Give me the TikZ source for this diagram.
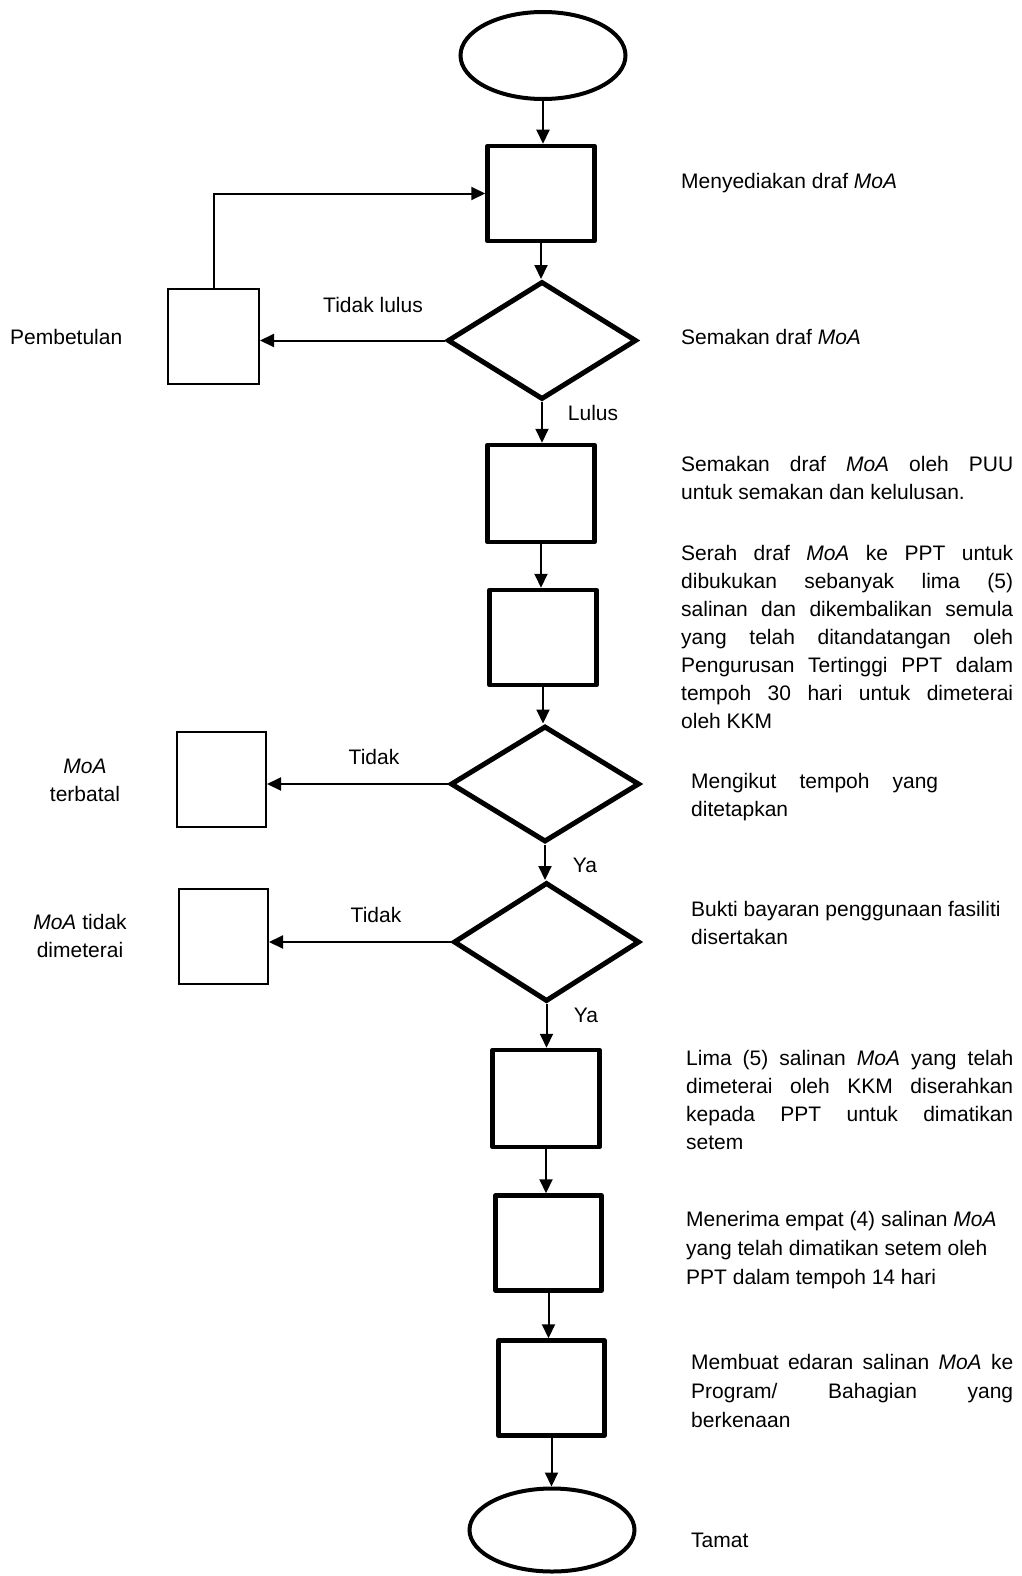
\documentclass[tikz,border=0pt]{standalone}
\usepackage{fontspec}
\setmainfont{Liberation Sans}
\usetikzlibrary{shapes.geometric,arrows.meta}
\newcommand{\moa}{\textit{MoA}}
\newcommand{\jline}[2]{\makebox[#1][s]{#2}\\}

\begin{document}
\begin{tikzpicture}[x=1pt,y=-1pt,
  txt/.style={inner sep=0pt, font=\fontsize{21}{28}\selectfont},
  blk/.style={txt, anchor=base west},
  lbl/.style={txt, anchor=base},
  proc/.style={draw, line width=4.5pt, line join=round, rectangle, inner sep=0pt,
               minimum width=107pt, minimum height=95pt},
  side/.style={draw, line width=2pt, rectangle, inner sep=0pt,
               minimum width=89pt, minimum height=95pt},
  dec/.style={draw, line width=5pt, diamond, inner sep=0pt},
  term/.style={draw, line width=4pt, ellipse, inner sep=0pt,
               minimum width=165pt, minimum height=87pt},
  flow/.style={line width=2pt, -{Triangle[length=14pt,width=13pt]}},
]
\useasboundingbox (0,0) rectangle (1022,1576);

% main column
\node[term] (start) at (543,55.5) {};
\node[proc] (b1) at (541,193.5) {};
\node[dec, minimum width=189pt, minimum height=118pt] (d1) at (542,340.5) {};
\node[proc, minimum height=97pt] (b3) at (541,493.5) {};
\node[proc] (b4) at (543,637.5) {};
\node[dec, minimum width=189pt, minimum height=116pt] (d2) at (545,784) {};
\node[dec, minimum width=186pt, minimum height=119pt] (d3) at (546.5,942) {};
\node[proc, minimum height=97pt] (b5) at (546,1098.5) {};
\node[proc, minimum width=106pt] (b6) at (548.5,1243) {};
\node[proc, minimum width=106pt] (b7) at (551.5,1388) {};
\node[term, minimum height=83pt] (stop) at (552,1530) {};

% side branches
\node[side, minimum width=91pt] (pemb) at (213.5,336.5) {};
\node[side] (batal) at (221.5,779.5) {};
\node[side] (tdk) at (223.5,936.5) {};

% connectors
\draw[flow] (start.south) -- (start.south |- b1.north);
\draw[flow] (b1.south) -- (b1.south |- d1.north);
\draw[flow] (d1.west) -- (pemb.east |- d1.west);
\draw[flow] (pemb.north) |- (b1.west);
\draw[flow] (d1.south) -- (d1.south |- b3.north);
\draw[flow] (b3.south) -- (b3.south |- b4.north);
\draw[flow] (b4.south) -- (b4.south |- d2.north);
\draw[flow] (d2.west) -- (batal.east |- d2.west);
\draw[flow] (d2.south) -- (d2.south |- d3.north);
\draw[flow] (d3.west) -- (tdk.east |- d3.west);
\draw[flow] (d3.south) -- (d3.south |- b5.north);
\draw[flow] (b5.south) -- (b5.south |- b6.north);
\draw[flow] (b6.south) -- (b6.south |- b7.north);
\draw[flow] (b7.south) -- (b7.south |- stop.north);

% connector labels
\node[lbl] (lTL) at (373,312) {Tidak lulus};
\node[lbl] (lL) at (593,420) {Lulus};
\node[lbl] (lT1) at (374,764) {Tidak};
\node[lbl] (lY1) at (585,872) {Ya};
\node[lbl] (lT2) at (376,922) {Tidak};
\node[lbl] (lY2) at (586,1022) {Ya};

% side box captions
\node[blk] (cPemb) at (10,344) {Pembetulan};
\node[lbl] (cBatal) at (85,773) {\parbox[t]{150pt}{\centering \moa\\ terbatal}};
\node[lbl] (cTdk) at (80,929) {\parbox[t]{150pt}{\centering \moa{} tidak\\ dimeterai}};

% step descriptions
\node[blk] (t1) at (681,188) {Menyediakan draf \moa};
\node[blk] (t2) at (681,344) {Semakan draf \moa};
\node[blk] (t3) at (681,471) {\parbox[t]{332pt}{%
  \jline{332pt}{Semakan draf \moa{} oleh PUU}%
  untuk semakan dan kelulusan.}};
\node[blk] (t4) at (681,560) {\parbox[t]{332pt}{%
  \jline{332pt}{Serah draf \moa{} ke PPT untuk}%
  \jline{332pt}{dibukukan sebanyak lima (5)}%
  \jline{332pt}{salinan dan dikembalikan semula}%
  \jline{332pt}{yang telah ditandatangan oleh}%
  \jline{332pt}{Pengurusan Tertinggi PPT dalam}%
  \jline{332pt}{tempoh 30 hari untuk dimeterai}%
  oleh KKM}};
\node[blk] (t5) at (691,788) {\parbox[t]{247pt}{%
  \jline{247pt}{Mengikut tempoh yang}%
  ditetapkan}};
\node[blk] (t6) at (691,916) {\parbox[t]{330pt}{%
  Bukti bayaran penggunaan fasiliti\\
  disertakan}};
\node[blk] (t7) at (686,1065) {\parbox[t]{327pt}{%
  \jline{327pt}{Lima (5) salinan \moa{} yang telah}%
  \jline{327pt}{dimeterai oleh KKM diserahkan}%
  \jline{327pt}{kepada PPT untuk dimatikan}%
  setem}};
\node[blk] (t8) at (686,1226) {\parbox[t]{330pt}{%
  \fontsize{21}{29}\selectfont
  Menerima empat (4) salinan \moa\\
  yang telah dimatikan setem oleh\\
  PPT dalam tempoh 14 hari}};
\node[blk] (t9) at (691,1369) {\parbox[t]{322pt}{%
  \fontsize{21}{29}\selectfont
  \jline{322pt}{Membuat edaran salinan \moa{} ke}%
  \jline{322pt}{Program/ Bahagian yang}%
  berkenaan}};
\node[blk] (t10) at (691,1547) {Tamat};
\end{tikzpicture}
\end{document}
